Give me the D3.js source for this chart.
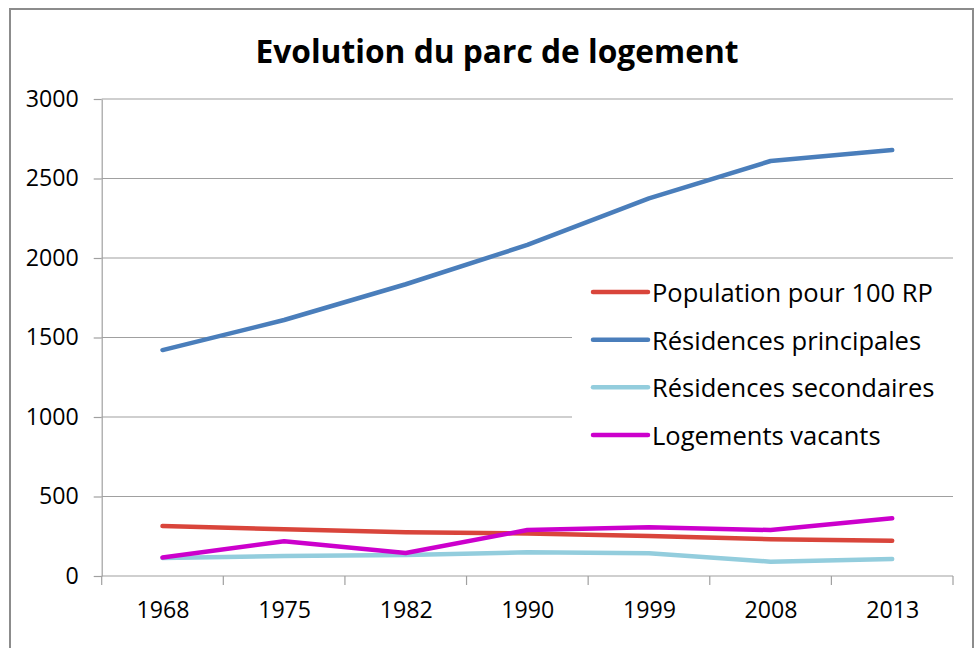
<!DOCTYPE html>
<html>
<head>
<meta charset="utf-8">
<script src="https://cdn.jsdelivr.net/npm/d3@7/dist/d3.min.js"></script>
<style>
  html, body { margin: 0; padding: 0; background: #fff; }
  svg { display: block; }
  text { font-family: "Open Sans", Lato, "DejaVu Sans", sans-serif; fill: #000; }
</style>
</head>
<body>
<svg id="chart" width="976" height="648"></svg>
<script>
// Census years on the category axis
const years = ["1968", "1975", "1982", "1990", "1999", "2008", "2013"];

// One array per series, in census-year order
const populationPour100RP    = [314, 294, 275, 268, 252, 231, 222];
const residencesPrincipales  = [1421, 1610, 1835, 2082, 2375, 2610, 2679];
const residencesSecondaires  = [113, 126, 132, 149, 143, 90, 107];
const logementsVacants       = [117, 218, 145, 289, 306, 289, 363];

const seriesNames = [
  "Population pour 100 RP",
  "Résidences principales",
  "Résidences secondaires",
  "Logements vacants"
];
const seriesColors = ["#d9453b", "#4a7ebb", "#93cddd", "#cc00cc"];

const yTicks = [0, 500, 1000, 1500, 2000, 2500, 3000];
const titleText = "Evolution du parc de logement";

const series = [populationPour100RP, residencesPrincipales, residencesSecondaires, logementsVacants]
  .map((values, i) => ({ name: seriesNames[i], color: seriesColors[i], values }));

const svg = d3.select("#chart");
const W = 976, H = 648;
const plot = { left: 101.7, right: 953, top: 99, bottom: 576 };

// Scale a text's font size so that one reference string spans the given width
function fitFont(sel, sample, width, base) {
  const probe = svg.append("text").style("font-size", base + "px")
    .style("font-weight", sel.style("font-weight")).text(sample);
  const w = probe.node().getComputedTextLength();
  probe.remove();
  sel.style("font-size", (base * width / w).toFixed(2) + "px");
}

// Outer chart frame (left, top and right edges)
svg.append("path")
  .attr("d", `M10,${H} V9 H973 V${H}`)
  .attr("fill", "none")
  .attr("stroke", "#8c8c8c")
  .attr("stroke-width", 2);

// Title
const title = svg.append("text")
  .attr("x", 497)
  .attr("y", 50)
  .attr("text-anchor", "middle")
  .attr("dominant-baseline", "central")
  .style("font-weight", "bold")
  .text(titleText);
fitFont(title, titleText, 483, 28);

const band = d3.scaleBand().domain(years).range([plot.left, plot.right]);
const x = d3.scalePoint().domain(years).range([plot.left, plot.right]).padding(0.5);
const y = d3.scaleLinear().domain([0, 3000]).range([plot.bottom, plot.top]);

const gridColor = "#a0a0a0";

// Horizontal gridlines
svg.append("g")
  .selectAll("line")
  .data(yTicks.filter(d => d !== 0))
  .join("line")
  .attr("x1", plot.left).attr("x2", plot.right)
  .attr("y1", d => y(d)).attr("y2", d => y(d))
  .attr("stroke", gridColor).attr("stroke-width", 1.2);

// Y axis
const yAxis = svg.append("g")
  .attr("transform", `translate(${plot.left},0)`)
  .call(d3.axisLeft(y).tickValues(yTicks).tickFormat(d3.format("d"))
    .tickSize(8).tickPadding(15).tickSizeOuter(0));
yAxis.select(".domain").attr("stroke", gridColor).attr("stroke-width", 1.2);
yAxis.selectAll(".tick line").attr("stroke", gridColor).attr("stroke-width", 1.2);
yAxis.selectAll(".tick text").style("font-family", null);
fitFont(yAxis.selectAll(".tick text"), "3000", 53, 22);

// X axis: baseline, tick marks at band edges, labels at band centres
const xAxis = svg.append("g").attr("transform", `translate(0,${plot.bottom})`);
xAxis.append("line")
  .attr("x1", plot.left).attr("x2", plot.right)
  .attr("stroke", gridColor).attr("stroke-width", 1.2);
const edges = years.map(d => band(d)).concat([plot.right]);
xAxis.selectAll("line.tk")
  .data(edges)
  .join("line")
  .attr("class", "tk")
  .attr("x1", d => d).attr("x2", d => d)
  .attr("y1", 0).attr("y2", 9)
  .attr("stroke", gridColor).attr("stroke-width", 1.2);
const xLabels = xAxis.append("g")
  .call(d3.axisBottom(x).tickSize(0).tickPadding(26));
xLabels.select(".domain").remove();
xLabels.selectAll("text").style("font-family", null);
fitFont(xLabels.selectAll("text"), "1968", 53, 22);

// Series lines
const line = d3.line()
  .x((d, i) => x(years[i]))
  .y(d => y(d));

svg.append("g")
  .selectAll("path")
  .data(series)
  .join("path")
  .attr("d", d => line(d.values))
  .attr("fill", "none")
  .attr("stroke", d => d.color)
  .attr("stroke-width", 4.5)
  .attr("stroke-linecap", "round")
  .attr("stroke-linejoin", "round");

// Legend on a white panel
const legend = svg.append("g");
legend.append("rect")
  .attr("x", 572).attr("y", 268)
  .attr("width", plot.right - 572).attr("height", 194)
  .attr("fill", "#fff");
const rowY = d3.scalePoint().domain(seriesNames).range([292, 435]);
const rows = legend.selectAll("g.row")
  .data(series)
  .join("g")
  .attr("class", "row")
  .attr("transform", d => `translate(0,${rowY(d.name)})`);
rows.append("line")
  .attr("x1", 593).attr("x2", 648)
  .attr("stroke", d => d.color)
  .attr("stroke-width", 4.5)
  .attr("stroke-linecap", "round");
const legendText = rows.append("text")
  .attr("x", 652)
  .attr("dominant-baseline", "central")
  .text(d => d.name);
fitFont(legendText, seriesNames[0], 281, 24);
</script>
</body>
</html>
